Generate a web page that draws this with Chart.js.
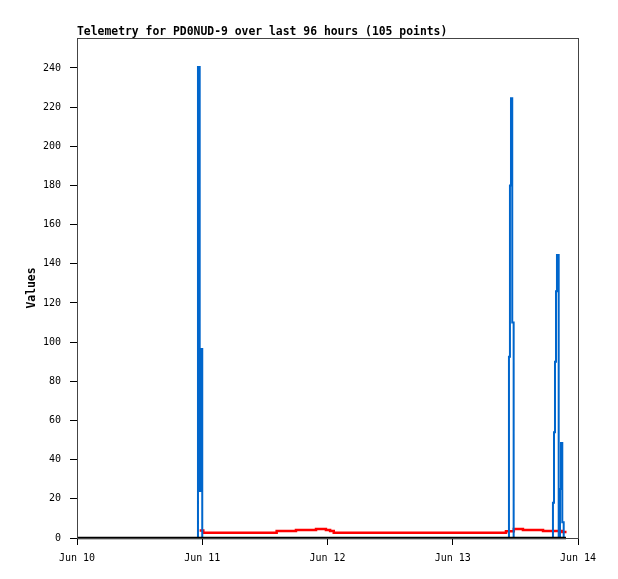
<!DOCTYPE html>
<html>
<head>
<meta charset="utf-8">
<script src="https://cdn.jsdelivr.net/npm/chart.js@4.4.1/dist/chart.umd.min.js"></script>
<style>
  html, body { margin: 0; padding: 0; background: #fff; }
  #wrap { width: 618px; height: 579px; }
</style>
</head>
<body>
<div id="wrap"><canvas id="telemetry"></canvas></div>
<script>
// hours since Jun 10 00:00
var titleText = 'Telemetry for PD0NUD-9 over last 96 hours (105 points)';
var xTickLabels = ['Jun 10', 'Jun 11', 'Jun 12', 'Jun 13', 'Jun 14'];

var blueHours  = [23.0, 23.18, 23.51, 23.70, 24.0, 82.77, 82.96, 83.16, 83.40, 83.67, 91.2, 91.4, 91.59, 91.78, 91.97, 92.3, 92.55, 92.74, 92.99, 93.26, 93.7];
var blueValues = [0, 240.5, 24, 96.5, 0, 92.5, 180, 224.5, 110, 0, 18, 54, 90, 126, 144.5, 0, 25, 48.5, 8, 0, 0];

var redHours  = [23.5, 24.2, 38.26, 41.96, 45.8, 47.7, 48.5, 49.2, 82.2, 83.7, 85.45, 89.3, 92.55, 93.0, 93.8];
var redValues = [3.8, 2.7, 3.6, 4.1, 4.6, 4.1, 3.6, 2.7, 3.4, 4.6, 4.1, 3.6, 3.6, 3.1, 3.1];

var blackHours  = [0, 93.7];
var blackValues = [0, 0];

function pts(xs, ys) {
	var out = [];
	for (var i = 0; i < xs.length; i++) out.push({x: xs[i], y: ys[i]});
	return out;
}

var framePlugin = {
	id: 'frame',
	afterDraw: function(chart) {
		var ctx = chart.ctx, a = chart.chartArea;
		ctx.save();
		ctx.strokeStyle = '#444';
		ctx.lineWidth = 1;
		ctx.strokeRect(a.left + 0.5, a.top + 0.5, a.right - a.left, a.bottom - a.top);
		ctx.fillStyle = '#000';
		ctx.font = 'bold 11.4px "DejaVu Sans Mono", monospace';
		ctx.textBaseline = 'alphabetic';
		ctx.fillText(titleText, a.left, a.top - 3);
		ctx.restore();
	}
};

var tickFont = {family: '"DejaVu Sans Mono", monospace', size: 10};

new Chart(document.getElementById('telemetry'), {
	type: 'line',
	data: {
		datasets: [
			{ label: 'black', data: pts(blackHours, blackValues), borderColor: '#000', borderWidth: 2.5, stepped: 'before', pointRadius: 0, clip: false },
			{ label: 'blue', data: pts(blueHours, blueValues), borderColor: '#0066cc', borderWidth: 2, stepped: 'before', pointRadius: 0, clip: false },
			{ label: 'red', data: pts(redHours, redValues), borderColor: '#ff0000', borderWidth: 2.5, stepped: 'before', pointRadius: 0, clip: false }
		]
	},
	options: {
		responsive: true,
		maintainAspectRatio: false,
		animation: false,
		layout: { padding: { left: 0, right: 40, top: 38, bottom: 0 } },
		plugins: { legend: { display: false }, tooltip: { enabled: false } },
		scales: {
			x: {
				type: 'linear',
				min: 0, max: 96,
				border: { display: false },
				grid: { drawOnChartArea: false, drawTicks: true, tickLength: 7, color: '#000' },
				ticks: {
					stepSize: 24, autoSkip: false, maxRotation: 0, padding: 7,
					color: '#000', font: tickFont,
					callback: function(v) { return xTickLabels[Math.round(v / 24)]; }
				},
				afterFit: function(s) { s.height = 41; }
			},
			y: {
				min: 0, max: 255.3,
				border: { display: false },
				grid: { drawOnChartArea: false, drawTicks: true, tickLength: 7, color: '#000' },
				ticks: { stepSize: 20, padding: 9, color: '#000', font: tickFont },
				afterBuildTicks: function(s) { s.ticks = s.ticks.filter(function(t) { return t.value % 20 === 0; }); },
				title: { display: true, text: 'Values', color: '#000', font: {family: '"DejaVu Sans Mono", monospace', size: 11.4, weight: 'bold'}, padding: {top: 25, bottom: 0} },
				afterFit: function(s) { s.width = 77; }
			}
		}
	},
	plugins: [framePlugin]
});
</script>
</body>
</html>
